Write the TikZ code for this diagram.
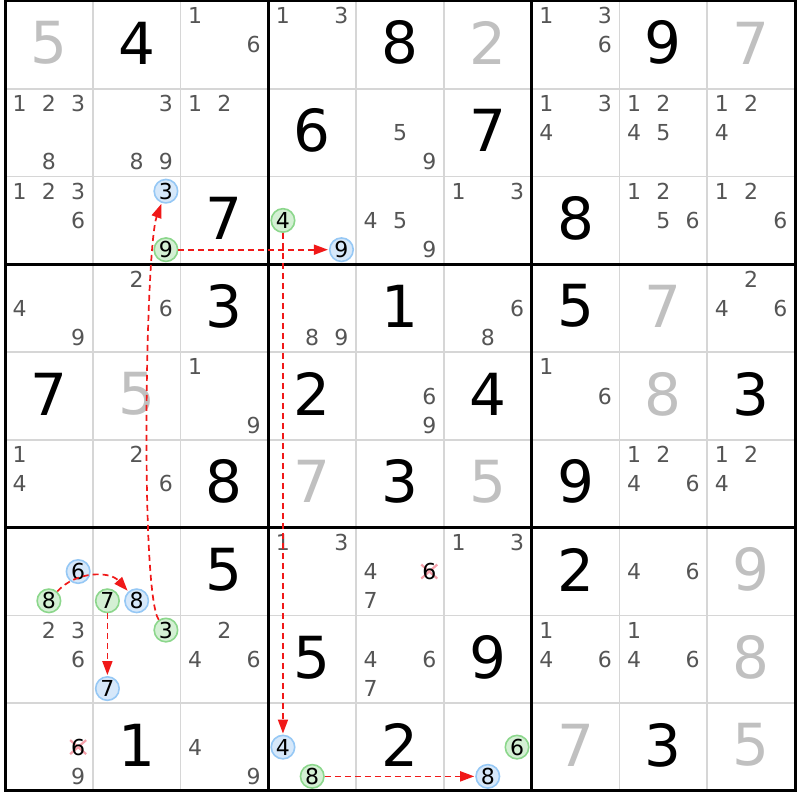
\documentclass[tikz,border=0pt]{standalone}
\usepackage{fontspec}
\setmainfont{DejaVu Sans}
\usetikzlibrary{arrows.meta,calc}
\definecolor{candgray}{RGB}{85,85,85}
\definecolor{givengray}{RGB}{192,192,192}
\definecolor{gridgray}{RGB}{214,214,214}
\definecolor{linkred}{RGB}{240,25,25}
\definecolor{bluefill}{RGB}{214,232,250}
\definecolor{blueline}{RGB}{150,200,245}
\definecolor{greenfill}{RGB}{212,240,212}
\definecolor{greenline}{RGB}{140,215,140}
\definecolor{crosspink}{RGB}{245,160,170}
\begin{document}
\begin{tikzpicture}[x=1pt,y=1pt,
  gridthin/.style={draw=gridgray,line width=1.5pt},
  gridthick/.style={draw=black,line width=3pt},
  givenblack/.style={font=\fontsize{58}{58}\selectfont,inner sep=0pt,text=black,yshift=2pt},
  givenlight/.style={font=\fontsize{58}{58}\selectfont,inner sep=0pt,text=givengray,yshift=2pt},
  cand/.style={font=\fontsize{22}{22}\selectfont,inner sep=0pt,text=candgray},
  candcrossed/.style={font=\fontsize{22}{22}\selectfont,inner sep=0pt,text=black},
  bluecand/.style={circle,font=\fontsize{22}{22}\selectfont,inner sep=0pt,minimum size=23.5pt,fill=bluefill,draw=blueline,line width=1.6pt,text=black},
  greencand/.style={circle,font=\fontsize{22}{22}\selectfont,inner sep=0pt,minimum size=23.5pt,fill=greenfill,draw=greenline,line width=1.6pt,text=black},
  crossmark/.style={draw=crosspink,line width=2.2pt},
  link/.style={draw=linkred,line width=1.7pt,dash pattern=on 6pt off 4pt,-{Triangle[length=14pt,width=10pt]},shorten >=1pt}
]
\useasboundingbox (0,0) rectangle (800,800);
\fill[white] (0,0) rectangle (800,800);
% thin grid lines
\foreach \i in {1,2,4,5,7,8} {
  \draw[gridthin] ({5+\i*87.7778},9) -- ({5+\i*87.7778},799);
  \draw[gridthin] (5,{799-\i*87.7778}) -- (795,{799-\i*87.7778});
}
% thick grid lines
\foreach \i in {3,6} {
  \draw[gridthick] ({5+\i*87.7778},9) -- ({5+\i*87.7778},799);
  \draw[gridthick] (5,{799-\i*87.7778}) -- (795,{799-\i*87.7778});
}
\draw[gridthick] (5,9) rectangle (795,799);
% given digits
\foreach \r/\c/\d in {0/1/4,0/4/8,0/7/9,1/3/6,1/5/7,2/2/7,2/6/8,3/2/3,3/4/1,3/6/5,4/0/7,4/3/2,4/5/4,4/8/3,5/2/8,5/4/3,5/6/9,6/2/5,6/6/2,7/3/5,7/5/9,8/1/1,8/4/2,8/7/3}
  \node[givenblack] (g\r\c) at ({5+(\c+0.5)*87.7778},{799-(\r+0.5)*87.7778}) {\d};
\foreach \r/\c/\d in {0/0/5,0/5/2,0/8/7,3/7/7,4/1/5,4/7/8,5/3/7,5/5/5,6/8/9,7/8/8,8/6/7,8/8/5}
  \node[givenlight] (g\r\c) at ({5+(\c+0.5)*87.7778},{799-(\r+0.5)*87.7778}) {\d};
% candidates
\foreach \r/\c/\ds in {0/2/{1,6},0/3/{1,3},0/6/{1,3,6},1/0/{1,2,3,8},1/1/{3,8,9},1/2/{1,2},1/4/{5,9},1/6/{1,3,4},1/7/{1,2,4,5},1/8/{1,2,4},2/0/{1,2,3,6},2/4/{4,5,9},2/5/{1,3},2/7/{1,2,5,6},2/8/{1,2,6},3/0/{4,9},3/1/{2,6},3/3/{8,9},3/5/{6,8},3/8/{2,4,6},4/2/{1,9},4/4/{6,9},4/6/{1,6},5/0/{1,4},5/1/{2,6},5/7/{1,2,4,6},5/8/{1,2,4},6/3/{1,3},6/4/{4,7},6/5/{1,3},6/7/{4,6},7/0/{2,3,6},7/2/{2,4,6},7/4/{4,6,7},7/6/{1,4,6},7/7/{1,4,6},8/0/{9},8/2/{4,9}} {
  \foreach \d in \ds {
    \node[cand] (k\r\c\d) at ({5+\c*87.7778+(mod(\d-1,3)+0.5)*29.2593},{799-\r*87.7778-(floor((\d-1)/3)+0.5)*29.2593}) {\d};
  }
}
% eliminated candidates
\foreach \r/\c/\d in {6/4/6,8/0/6} {
  \coordinate (x\r\c\d) at ({5+\c*87.7778+(mod(\d-1,3)+0.5)*29.2593},{799-\r*87.7778-(floor((\d-1)/3)+0.5)*29.2593});
  \draw[crossmark] ($(x\r\c\d)+(-8,-7)$) -- ($(x\r\c\d)+(8,7)$);
  \draw[crossmark] ($(x\r\c\d)+(-8,7)$) -- ($(x\r\c\d)+(8,-7)$);
  \node[candcrossed] (k\r\c\d) at (x\r\c\d) {\d};
}
% highlighted candidates
\foreach \r/\c/\d in {2/1/3,2/3/9,6/0/6,6/1/8,7/1/7,8/3/4,8/5/8}
  \node[bluecand] (k\r\c\d) at ({5+\c*87.7778+(mod(\d-1,3)+0.5)*29.2593},{799-\r*87.7778-(floor((\d-1)/3)+0.5)*29.2593}) {\d};
\foreach \r/\c/\d in {2/1/9,2/3/4,6/0/8,6/1/7,7/1/3,8/3/8,8/5/6}
  \node[greencand] (k\r\c\d) at ({5+\c*87.7778+(mod(\d-1,3)+0.5)*29.2593},{799-\r*87.7778-(floor((\d-1)/3)+0.5)*29.2593}) {\d};
% links
\draw[link] (k713) .. controls +(125:45) and +(250:60) .. (k213);
\draw[link] (k219) -- (k239);
\draw[link] (k234) -- (k834);
\draw[link] (k838) -- (k858);
\draw[link] (k608) to[bend left=48] (k618);
\draw[link] (k617) -- (k717);
\end{tikzpicture}
\end{document}
